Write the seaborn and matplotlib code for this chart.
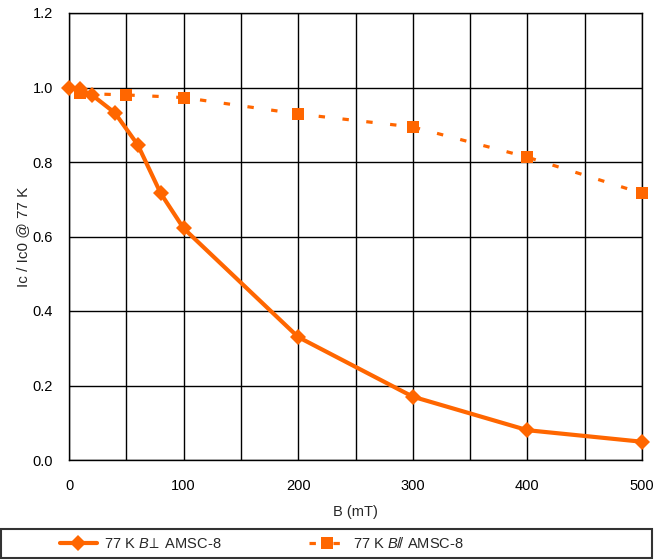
import matplotlib
matplotlib.use("Agg")
import matplotlib.pyplot as plt
import seaborn as sns
import numpy as np
import pandas as pd
from matplotlib.patches import Rectangle
from matplotlib.ticker import MultipleLocator

# Data
b_perp = [0, 10, 20, 40, 60, 80, 100, 200, 300, 400, 500]
ic_perp = [1.0, 0.995, 0.98, 0.932, 0.846, 0.716, 0.622, 0.33, 0.17, 0.08, 0.049]
b_par = [10, 50, 100, 200, 300, 400, 500]
ic_par = [0.984, 0.98, 0.973, 0.929, 0.894, 0.813, 0.716]
label_perp = r"77 K $B\!\perp$ AMSC-8"
label_par = r"77 K $B/\!/$ AMSC-8"
x_ticks = [0, 100, 200, 300, 400, 500]
y_ticks = [0.0, 0.2, 0.4, 0.6, 0.8, 1.0, 1.2]

sns.set_style("white")
plt.rcParams['font.family'] = ['Liberation Sans', 'DejaVu Sans']
plt.rcParams['mathtext.fontset'] = 'custom'
plt.rcParams['mathtext.it'] = 'Liberation Sans:italic'
plt.rcParams['mathtext.rm'] = 'Liberation Sans'

orange = "#FF6600"
fig = plt.figure(figsize=(6.71, 5.60), dpi=100)
ax = fig.add_axes([69/671, 100/560, (642-69)/671, (460-13)/560])

df1 = pd.DataFrame({"B": b_perp, "Ic": ic_perp})
df2 = pd.DataFrame({"B": b_par, "Ic": ic_par})
sns.lineplot(data=df1, x="B", y="Ic", ax=ax, color=orange, lw=3.0,
             marker="D", markersize=8, markeredgewidth=0, label=label_perp, zorder=3)
sns.lineplot(data=df2, x="B", y="Ic", ax=ax, color=orange, lw=2.3,
             marker="s", markersize=9, markeredgewidth=0, label=label_par, zorder=3)
ln = ax.lines[-1]
ln.set_dashes([2.0, 5.5])
for l_ in ax.lines:
    l_.set_clip_on(False)

ax.set_xlim(0, 500)
ax.set_ylim(0, 1.2)
ax.set_xticks(x_ticks)
ax.set_yticks(y_ticks)
ax.set_yticklabels([f"{v:.1f}" for v in y_ticks])
ax.xaxis.set_minor_locator(MultipleLocator(50))
ax.grid(True, which="both", color="black", lw=1.0)
ax.set_axisbelow(True)
for s in ax.spines.values():
    s.set_color("black")
    s.set_linewidth(1.0)
ax.tick_params(axis="both", which="major", direction="inout", length=9, width=1,
               color="black", labelsize=10.5, labelcolor="black")
ax.tick_params(axis="y", which="major", pad=7)
ax.tick_params(axis="x", which="major", pad=9)
ax.tick_params(axis="both", which="minor", length=0)
ax.set_xlabel("B (mT)", fontsize=10.5, labelpad=9)
ax.set_ylabel("Ic / Ic0 @ 77 K", fontsize=11, labelpad=2)

ax.get_legend().remove()
h, l = ax.get_legend_handles_labels()
fig.patches.append(Rectangle((1/671, 2/560), 651/671, 29/560, transform=fig.transFigure,
                             fill=False, edgecolor="#333333", lw=1.5))
fig.legend(h, l, loc="center left", bbox_to_anchor=(47/671, 16.5/560), ncol=2,
           frameon=False, fontsize=10.5, handlelength=2.5, columnspacing=6.0,
           handletextpad=0.5, numpoints=1)

fig.savefig("out.png", dpi=100)
